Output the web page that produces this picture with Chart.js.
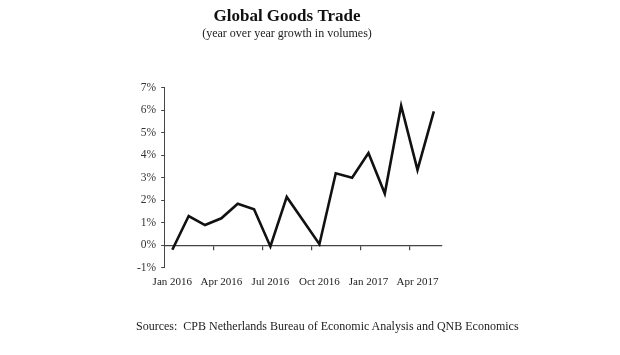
<!DOCTYPE html>
<html>
<head>
<meta charset="utf-8">
<script src="https://cdn.jsdelivr.net/npm/chart.js@4.4.1/dist/chart.umd.min.js"></script>
<style>
  body { margin: 0; background: #fff; }
  #wrap { position: relative; width: 620px; height: 355px; }
  #sources {
    position: absolute; left: 136px; top: 319px;
    font: 12px "Liberation Serif", serif; color: #222; white-space: nowrap;
  }
</style>
</head>
<body>
<div id="wrap">
  <canvas id="myChart" width="620" height="355"></canvas>
  <div id="sources">Sources:&nbsp; CPB Netherlands Bureau of Economic Analysis and QNB Economics</div>
</div>
<script>
// monthly categories, Jan 2016 .. May 2017
const months = ["Jan 2016", "Feb 2016", "Mar 2016", "Apr 2016", "May 2016", "Jun 2016",
  "Jul 2016", "Aug 2016", "Sep 2016", "Oct 2016", "Nov 2016", "Dec 2016",
  "Jan 2017", "Feb 2017", "Mar 2017", "Apr 2017", "May 2017"];
// year over year growth in volumes, %
const growth = [-0.2, 1.3, 0.9, 1.2, 1.85, 1.6, -0.05, 2.15, 1.1, 0.05,
  3.2, 3.0, 4.1, 2.3, 6.2, 3.35, 5.95];
const yTicks = [-1, 0, 1, 2, 3, 4, 5, 6, 7];

const serif = "'Liberation Serif', serif";
const ctx = document.getElementById("myChart").getContext("2d");

var chartData = {
  type: "line",
  data: {
    labels: months,
    datasets: [{
      data: growth,
      borderColor: "#111",
      borderWidth: 2.6,
      pointRadius: 0,
      tension: 0,
      xAxisID: "x",
      yAxisID: "y"
    }]
  },
  options: {
    responsive: false,
    devicePixelRatio: 1,
    animation: false,
    layout: { padding: { left: 132, right: 178, top: 0, bottom: 58 } },
    plugins: {
      legend: { display: false },
      tooltip: { enabled: false },
      title: {
        display: true,
        text: "Global Goods Trade",
        color: "#111",
        font: { family: serif, size: 17, weight: "bold" },
        padding: { top: 6, bottom: 0 }
      },
      subtitle: {
        display: true,
        text: "(year over year growth in volumes)",
        color: "#222",
        font: { family: serif, size: 12 },
        padding: { top: 0, bottom: 47 }
      }
    },
    scales: {
      x: {
        type: "category",
        position: "bottom",
        offset: true,
        grid: { display: false, drawTicks: false, offset: true },
        border: { display: false },
        ticks: {
          autoSkip: false,
          maxRotation: 0,
          padding: 8,
          color: "#222",
          font: { family: serif, size: 11 },
          callback: function (v, i) { return i % 3 === 0 ? months[i] : ""; }
        }
      },
      // axis line drawn through 0%
      x2: {
        type: "category",
        position: { y: 0 },
        offset: true,
        grid: {
          display: true,
          drawOnChartArea: false,
          drawTicks: true,
          tickLength: 4,
          offset: true,
          lineWidth: 1.2,
          color: function (c) {
            return (c.index > 0 && c.index % 3 === 0) ? "#444" : "rgba(0,0,0,0)";
          }
        },
        border: { display: true, color: "#444", width: 1.3 },
        ticks: { display: false }
      },
      y: {
        min: -1,
        max: 7,
        afterBuildTicks: function (axis) { axis.ticks = yTicks.map(v => ({ value: v })); },
        grid: { display: true, drawOnChartArea: false, drawTicks: true, tickLength: 3, color: "#444" },
        border: { display: true, color: "#444", width: 1 },
        ticks: {
          padding: 5,
          color: "#333",
          font: { family: serif, size: 11.5 },
          callback: v => v + "%"
        }
      }
    }
  }
};
var goodsChart = new Chart(ctx, chartData);
</script>
</body>
</html>
